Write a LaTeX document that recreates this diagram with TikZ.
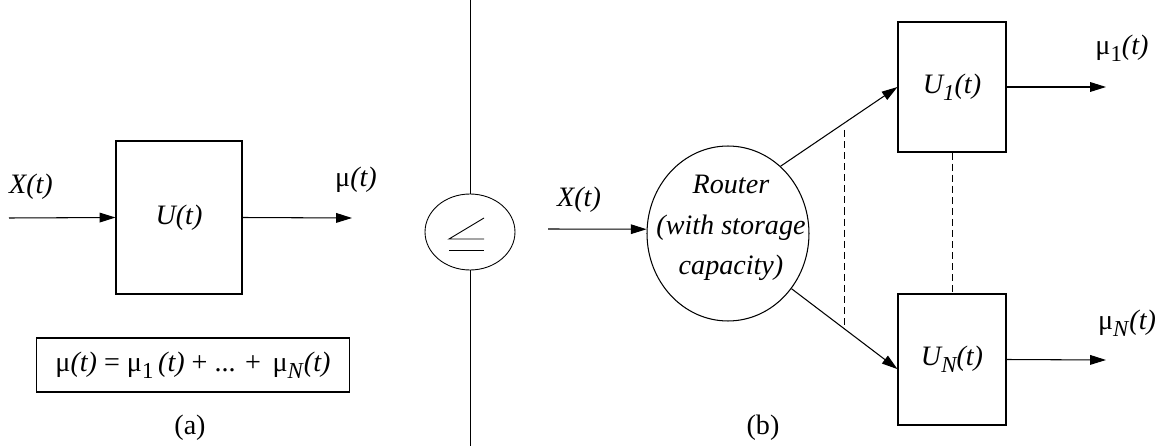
\documentclass[tikz,border=0pt]{standalone}
\usepackage{fontspec}
\setmainfont{Liberation Serif}
\usetikzlibrary{shapes.geometric,arrows.meta,calc}

% index sitting low and a bit smaller, as in the server names
\newcommand{\lowsub}[1]{\raisebox{-0.55ex}{\fontsize{13}{13}\selectfont #1}}

\begin{document}
\begin{tikzpicture}[x=0.02cm,y=-0.02cm,
    font=\fontsize{16}{23}\selectfont,
    blk/.style={rectangle,draw=black,line width=0.6pt,inner sep=0pt},
    lbl/.style={inner sep=0pt},
    flow/.style={->,>={Triangle[length=9pt,width=5.5pt]},line width=0.6pt},
    dsh/.style={line width=0.5pt,dash pattern=on 4pt off 2.3pt}]
\useasboundingbox (0,0) rectangle (1164,446);

% (a) one server seen alone
\node[blk,minimum width=2.52cm,minimum height=3.06cm] (srv) at (179,217.5) {\textit{U(t)}};
\coordinate (ain) at (9,218);
\coordinate (aout) at (352,218);
\draw[flow] (ain) -- (srv.west);
\draw[flow] (srv.east) -- (aout);
\node[lbl] (xa) at (31,187) {\textit{X(t)}};
\node[lbl] (mua) at (356,180) {μ\textit{(t)}};
\node[blk,minimum width=6.28cm,minimum height=1.08cm] (sum) at (193,365)
    {μ\textit{(t)} = μ\lowsub{1}\,\textit{(t)} + ... +\, μ\lowsub{\textit{N}}\textit{(t)}};
\node[lbl] (capa) at (190,428) {(a)};

% separator with the comparison sign
\node[ellipse,draw=black,line width=0.5pt,minimum width=1.8cm,minimum height=1.52cm,inner sep=0pt] (cmp) at (470,232) {};
\coordinate (septop) at (470,0);
\coordinate (sepbot) at (470,446);
\draw[line width=0.5pt] (septop) -- (cmp.north);
\draw[line width=0.5pt] (cmp.south) -- (sepbot);
\draw[line width=0.5pt] ($(cmp)+(14,-14)$) -- ($(cmp)+(-21,7)$) -- ($(cmp)+(14,7)$);
\draw[line width=0.5pt] ($(cmp)+(-21,18)$) -- ($(cmp)+(14,18)$);

% (b) router feeding N servers
\node[ellipse,draw=black,line width=0.6pt,minimum width=3.24cm,minimum height=3.5cm,inner sep=0pt] (router) at (728,233.5) {};
\node[lbl,align=center] (rtxt) at (731,228) {\textit{Router}\\\textit{(with storage}\\\textit{capacity)}};
\node[blk,minimum width=2.16cm,minimum height=2.6cm] (u1) at (952,87) {\textit{U\lowsub{1}(t)}};
\node[blk,minimum width=2.16cm,minimum height=2.62cm] (un) at (952,359.5) {\textit{U\lowsub{N}(t)}};

\coordinate (bin) at (548,229);
\coordinate (out1) at (1106,87);
\coordinate (outn) at (1106,360);
\draw[flow] (bin) -- (router.177);
\draw[flow] (router.52) -- (u1.west);
\draw[flow] (router.-41) -- (un.190);
\draw[flow] (u1.east) -- (out1);
\draw[flow] (un.east) -- (outn);

% the servers in between are left out
\coordinate (d1) at (844,130);
\coordinate (d2) at (844,328);
\draw[dsh] (d1) -- (d2);
\draw[dsh] (u1.south) -- (un.north);

\node[lbl] (xb) at (579,200) {\textit{X(t)}};
\node[lbl] (mu1) at (1122,48) {μ\lowsub{1}\textit{(t)}};
\node[lbl] (mun) at (1127,323) {μ\lowsub{\textit{N}}\textit{(t)}};
\node[lbl] (capb) at (763,428) {(b)};
\end{tikzpicture}
\end{document}
